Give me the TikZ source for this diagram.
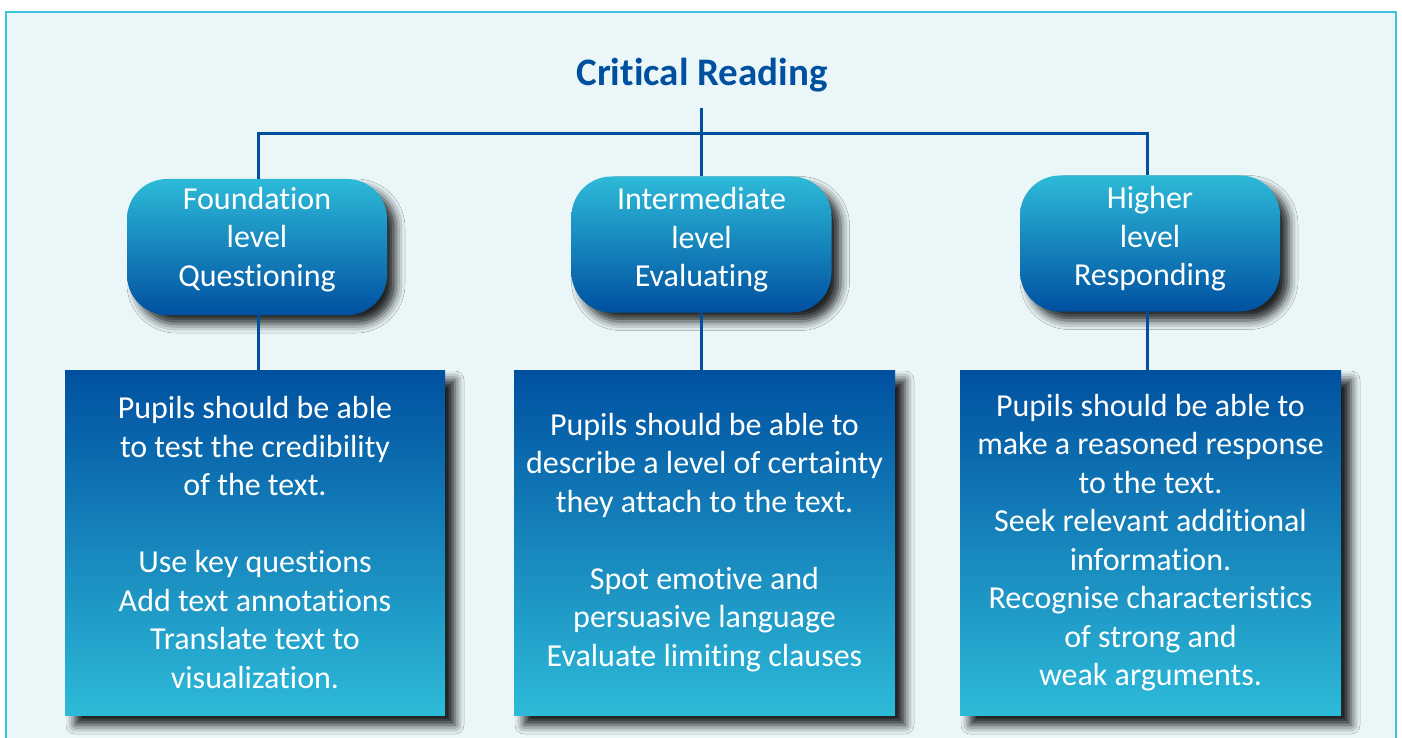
\documentclass[tikz,border=0pt]{standalone}
\usepackage{fontspec}
\setmainfont[Ligatures=NoCommon]{Carlito}
\usetikzlibrary{shadows.blur}
\definecolor{dblue}{HTML}{0050A0}
\definecolor{lcyan}{HTML}{2DBAD8}
\definecolor{framec}{HTML}{3CC4DC}
\definecolor{bgc}{HTML}{EAF6F8}
\tikzset{
  levelbox/.style={rounded corners=40pt, minimum width=260pt, minimum height=136pt,
    top color=lcyan, bottom color=dblue, text=white, align=center,
    font=\fontsize{32}{38.5}\selectfont, text depth=21pt,
    blur shadow={shadow xshift=9pt, shadow yshift=-9pt, shadow blur radius=9pt, shadow opacity=85}},
  descbox/.style={minimum width=381pt, minimum height=345pt,
    top color=dblue, bottom color=lcyan, text=white, align=center,
    font=\fontsize{32}{38.5}\selectfont,
    blur shadow={shadow xshift=10pt, shadow yshift=-10pt, shadow blur radius=9pt, shadow opacity=90}},
  conn/.style={draw=dblue, line width=3pt}
}
\begin{document}
\begin{tikzpicture}[x=1pt,y=-1pt]
\useasboundingbox (0,0) rectangle (1402,738);
\fill[white] (0,0) rectangle (1402,738);
\begin{scope}
\clip (0,0) rectangle (1402,738);
\draw[framec, fill=bgc, line width=2.5pt] (6,12) rectangle (1396,760);
\end{scope}
\node[font=\fontsize{39}{44}\selectfont\bfseries, text=dblue, anchor=base] (title) at (702,86) {Critical Reading};
\coordinate (titlebot) at (701.5,108);
\coordinate (bar) at (701.5,133.5);
\node[levelbox] (F) at (257,247) {Foundation\\level\\Questioning};
\node[levelbox, text depth=15pt] (I) at (701.5,244.5) {Intermediate\\level\\Evaluating};
\node[levelbox, text depth=15pt] (H) at (1150,243.5) {Higher\\level\\Responding};
\node[descbox, minimum width=380pt] (FD) at (255,542.5) {Pupils should be able\\to test the credibility\\of the text.\\[38.5pt]Use key questions\\Add text annotations\\Translate text to\\visualization.};
\node[descbox] (ID) at (704.5,542.5) {Pupils should be able to\\describe a level of certainty\\they attach to the text.\\[38.5pt]Spot emotive and\\persuasive language\\Evaluate limiting clauses};
\node[descbox] (HD) at (1150.5,542.5) {Pupils should be able to\\make a reasoned response\\to the text.\\Seek relevant additional\\information.\\Recognise characteristics\\of strong and\\weak arguments.};
\draw[conn] (titlebot) -- (I.north);
\draw[conn] ([xshift=1pt]F.north) -- ([xshift=1pt]F.north |- bar) -- ([xshift=-3pt]H.north |- bar) -- ([xshift=-3pt]H.north);
\draw[conn] ([xshift=1pt]F.south) -- ([xshift=1pt]F.south |- FD.north);
\draw[conn] (I.south) -- (I.south |- ID.north);
\draw[conn] ([xshift=-3pt]H.south) -- ([xshift=-3pt]H.south |- HD.north);
\end{tikzpicture}
\end{document}
